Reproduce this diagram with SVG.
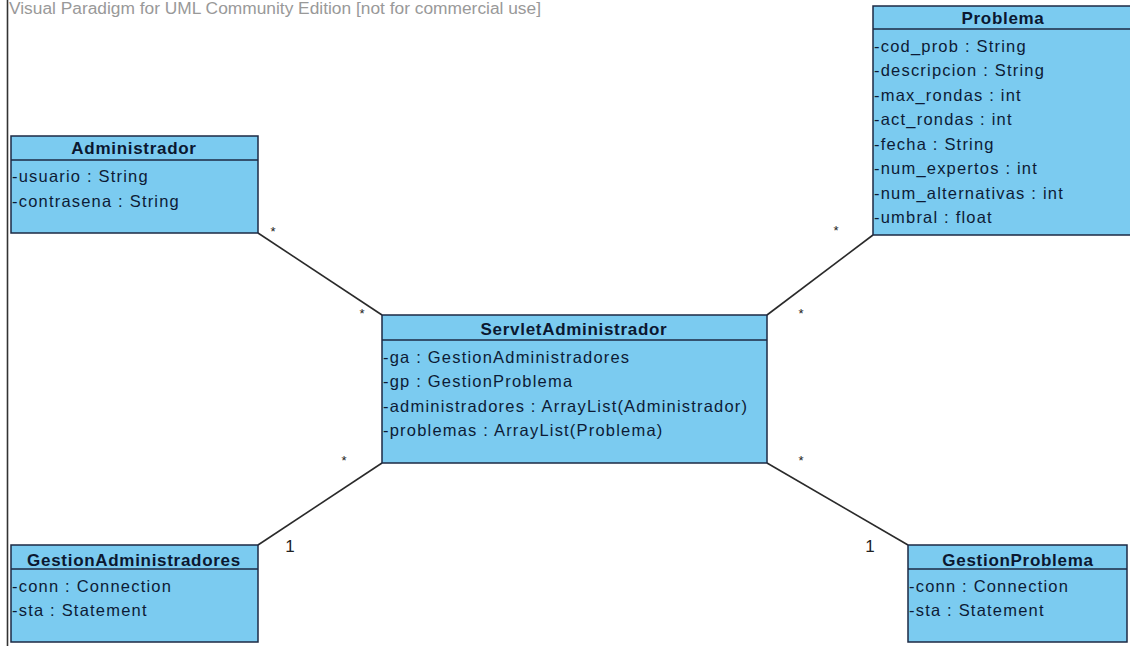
<svg xmlns="http://www.w3.org/2000/svg" width="1130" height="646" viewBox="0 0 1130 646">
  <style>
    .box { fill: #7bcbf0; stroke: #1c2a44; stroke-width: 1.5; }
    .sep { stroke: #1c2a44; stroke-width: 1.5; }
    .hdr { font-family: "Liberation Sans", Arial, sans-serif; font-size: 17px; font-weight: bold; fill: #0b1830; text-anchor: middle; letter-spacing: 0.7px; }
    .attr { font-family: "Liberation Sans", Arial, sans-serif; font-size: 16.5px; fill: #0d1b36; letter-spacing: 1.2px; }
    .assoc { stroke: #2a2a2a; stroke-width: 1.6; fill: none; }
    .mult { font-family: "Liberation Sans", Arial, sans-serif; font-size: 13px; fill: #222; text-anchor: middle; }
    .one { font-family: "Liberation Sans", Arial, sans-serif; font-size: 17px; fill: #222; text-anchor: middle; }
    .wm { font-family: "Liberation Sans", Arial, sans-serif; font-size: 16px; fill: #999999; }
  </style>

  <rect width="1130" height="646" fill="#ffffff"/>

  <!-- canvas left edge and edition banner -->
  <line x1="7.5" y1="0" x2="7.5" y2="646" stroke="#333" stroke-width="1.6"/>
  <text class="wm" x="9" y="14" textLength="532" lengthAdjust="spacingAndGlyphs">Visual Paradigm for UML Community Edition [not for commercial use]</text>

  <!-- associations -->
  <g id="connectors">
    <line class="assoc" x1="258" y1="233" x2="382" y2="315"/>
    <line class="assoc" x1="873" y1="235" x2="767" y2="315"/>
    <line class="assoc" x1="258" y1="545" x2="382" y2="463"/>
    <line class="assoc" x1="908" y1="545" x2="767" y2="463"/>
    <text class="mult" x="273" y="236">*</text>
    <text class="mult" x="362" y="318">*</text>
    <text class="mult" x="836" y="235">*</text>
    <text class="mult" x="801" y="318">*</text>
    <text class="mult" x="344" y="465">*</text>
    <text class="one" x="290" y="552">1</text>
    <text class="mult" x="801" y="465">*</text>
    <text class="one" x="870" y="552">1</text>
  </g>

  <g id="Administrador">
    <rect class="box" x="11" y="136" width="247" height="97"/>
    <line class="sep" x1="11" y1="160" x2="258" y2="160"/>
    <text class="hdr" x="134" y="154">Administrador</text>
    <text class="attr" x="12" y="182">-usuario : String</text>
    <text class="attr" x="12" y="207">-contrasena : String</text>
  </g>

  <g id="Problema">
    <rect class="box" x="873" y="6" width="262" height="229"/>
    <line class="sep" x1="873" y1="29" x2="1135" y2="29"/>
    <text class="hdr" x="1003" y="24">Problema</text>
    <text class="attr" x="874" y="52">-cod_prob : String</text>
    <text class="attr" x="874" y="76">-descripcion : String</text>
    <text class="attr" x="874" y="101">-max_rondas : int</text>
    <text class="attr" x="874" y="125">-act_rondas : int</text>
    <text class="attr" x="874" y="150">-fecha : String</text>
    <text class="attr" x="874" y="174">-num_expertos : int</text>
    <text class="attr" x="874" y="199">-num_alternativas : int</text>
    <text class="attr" x="874" y="223">-umbral : float</text>
  </g>

  <g id="ServletAdministrador">
    <rect class="box" x="382" y="315" width="385" height="148"/>
    <line class="sep" x1="382" y1="340" x2="767" y2="340"/>
    <text class="hdr" x="574" y="335">ServletAdministrador</text>
    <text class="attr" x="383" y="363">-ga : GestionAdministradores</text>
    <text class="attr" x="383" y="387">-gp : GestionProblema</text>
    <text class="attr" x="383" y="412">-administradores : ArrayList(Administrador)</text>
    <text class="attr" x="383" y="436">-problemas : ArrayList(Problema)</text>
  </g>

  <g id="GestionAdministradores">
    <rect class="box" x="11" y="545" width="247" height="97"/>
    <line class="sep" x1="11" y1="569" x2="258" y2="569"/>
    <text class="hdr" x="134" y="566">GestionAdministradores</text>
    <text class="attr" x="12" y="592">-conn : Connection</text>
    <text class="attr" x="12" y="616">-sta : Statement</text>
  </g>

  <g id="GestionProblema">
    <rect class="box" x="908" y="545" width="219" height="97"/>
    <line class="sep" x1="908" y1="569" x2="1127" y2="569"/>
    <text class="hdr" x="1018" y="566">GestionProblema</text>
    <text class="attr" x="909" y="592">-conn : Connection</text>
    <text class="attr" x="909" y="616">-sta : Statement</text>
  </g>
</svg>
